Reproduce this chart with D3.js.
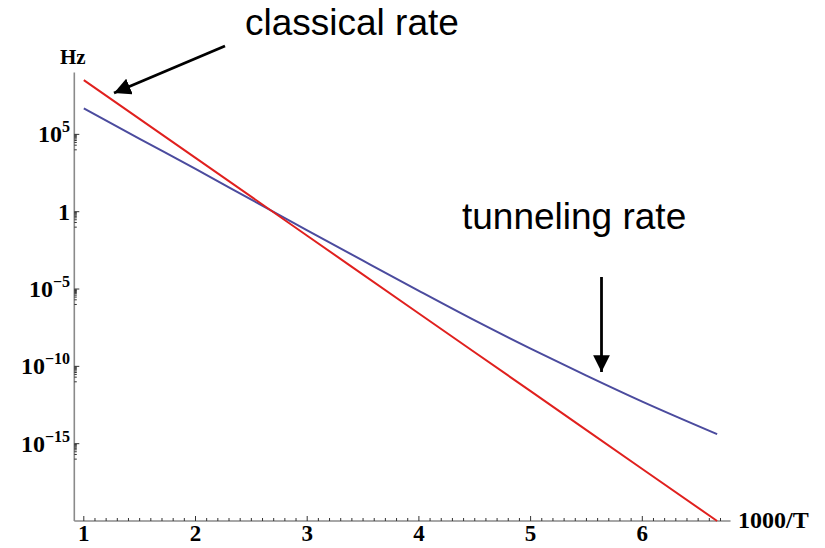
<!DOCTYPE html>
<html><head><meta charset="utf-8">
<script src="https://cdn.jsdelivr.net/npm/d3@7"></script>
<style>body{margin:0;background:#fff}</style>
</head><body>
<svg id="c" width="825" height="548"></svg>
<script>
// inverse temperature 1000/T
const classicalX = [1, 2, 3, 4, 5, 6, 6.67];
const classicalRate = [3.2e8, 3.0e3, 2.8e-2, 2.6e-7, 2.5e-12, 2.3e-17, 1.0e-20];
const tunnelingX = [1, 1.5, 2, 2.5, 3, 3.5, 4, 4.5, 5, 5.5, 6, 6.67];
const tunnelingRate = [4.8e6, 5.2e4, 5.8e2, 6.0, 6.3e-2, 6.8e-4, 7.6e-6, 9.3e-8, 1.4e-9, 2.5e-11, 5.2e-13, 4.1e-15];
const xTicks = [1, 2, 3, 4, 5, 6];
const yTickExps = [5, 0, -5, -10, -15];
const yTickLabels = ["5", "", "\u22125", "\u221210", "\u221215"];

const svg = d3.select("#c");
const x = d3.scaleLinear().domain([1, 6]).range([83.8, 642.3]);
const y = d3.scaleLog().domain([1e-20, 1e9]).range([521, 72.5]);
const x0 = 0.915, x1 = 6.79;
const axisColor = "#8a8a8a";

// axes lines
svg.append("line").attr("x1", x(x0)).attr("x2", x(x1)).attr("y1", y(1e-20)).attr("y2", y(1e-20))
  .attr("stroke", axisColor).attr("stroke-width", 1.6);
svg.append("line").attr("x1", x(x0)).attr("x2", x(x0)).attr("y1", y(1e-20)).attr("y2", y(1e9))
  .attr("stroke", axisColor).attr("stroke-width", 1.6);

// x ticks
const minorX = d3.range(10, 68).map(d => d / 10);
svg.selectAll(".mx").data(minorX).enter().append("line")
  .attr("x1", d => x(d)).attr("x2", d => x(d))
  .attr("y1", y(1e-20)).attr("y2", d => y(1e-20) - (Math.abs(d - Math.round(d)) < 1e-6 ? 5 : 3))
  .attr("stroke", "#333").attr("stroke-width", 1);
svg.selectAll(".xl").data(xTicks).enter().append("text")
  .attr("x", d => x(d)).attr("y", 541).attr("text-anchor", "middle")
  .attr("font-family", "Liberation Serif, Times New Roman, serif").attr("font-weight", "bold")
  .attr("font-size", 23).text(d => d);

// y ticks
yTickExps.forEach((e, i) => {
  const yy = y(Math.pow(10, e));
  svg.append("line").attr("x1", x(x0)).attr("x2", x(x0) + 5).attr("y1", yy).attr("y2", yy)
    .attr("stroke", "#333").attr("stroke-width", 1);
  for (let k = 1; k <= 9; k++) {
    const ym = y(k * Math.pow(10, e - 1));
    svg.append("line").attr("x1", x(x0)).attr("x2", x(x0) + 2.5).attr("y1", ym).attr("y2", ym)
      .attr("stroke", "#333").attr("stroke-width", 1);
  }
  const t = svg.append("text").attr("x", 70).attr("y", yy + 8).attr("text-anchor", "end")
    .attr("font-family", "Liberation Serif, Times New Roman, serif").attr("font-weight", "bold")
    .attr("font-size", 24);
  if (e === 0) { t.text("1"); }
  else {
    t.append("tspan").text("10");
    t.append("tspan").attr("dy", -10).attr("font-size", 16).text(yTickLabels[i]);
  }
});

// axis labels
svg.append("text").attr("x", 60).attr("y", 64)
  .attr("font-family", "Liberation Serif, Times New Roman, serif").attr("font-weight", "bold")
  .attr("font-size", 21).text("Hz");
svg.append("text").attr("x", 738).attr("y", 528)
  .attr("font-family", "Liberation Serif, Times New Roman, serif").attr("font-weight", "bold")
  .attr("font-size", 24).text("1000/T");

// series
const line = d3.line().x(d => x(d[0])).y(d => y(d[1])).curve(d3.curveMonotoneX);
svg.append("path").datum(tunnelingX.map((v, i) => [v, tunnelingRate[i]]))
  .attr("d", line).attr("fill", "none").attr("stroke", "#4b4b9e").attr("stroke-width", 2);
svg.append("path").datum(classicalX.map((v, i) => [v, classicalRate[i]]))
  .attr("d", line).attr("fill", "none").attr("stroke", "#e0201e").attr("stroke-width", 2);

// annotations
const defs = svg.append("defs");
defs.append("marker").attr("id", "ah").attr("viewBox", "0 0 10 10").attr("refX", 10).attr("refY", 5)
  .attr("markerWidth", 6).attr("markerHeight", 6).attr("orient", "auto").attr("markerUnits", "strokeWidth")
  .append("path").attr("d", "M0,0 L10,5 L0,10 z").attr("fill", "#000");
svg.append("line").attr("x1", 225).attr("y1", 46).attr("x2", 114).attr("y2", 93)
  .attr("stroke", "#000").attr("stroke-width", 2.8).attr("marker-end", "url(#ah)");
svg.append("line").attr("x1", 601.5).attr("y1", 277).attr("x2", 601.5).attr("y2", 372)
  .attr("stroke", "#000").attr("stroke-width", 2.8).attr("marker-end", "url(#ah)");
svg.append("text").attr("x", 245).attr("y", 35)
  .attr("font-family", "Liberation Sans, Arial, sans-serif").attr("font-size", 37).text("classical rate");
svg.append("text").attr("x", 462).attr("y", 229)
  .attr("font-family", "Liberation Sans, Arial, sans-serif").attr("font-size", 37).text("tunneling rate");
</script>
</body></html>
